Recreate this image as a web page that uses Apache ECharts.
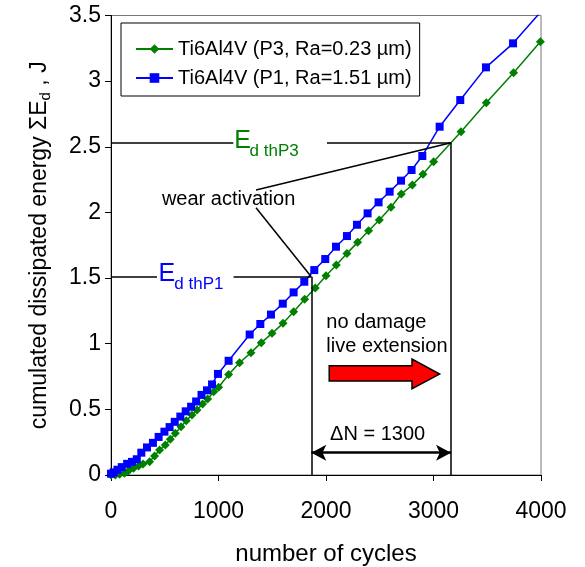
<!DOCTYPE html>
<html>
<head>
<meta charset="utf-8">
<script src="https://cdn.jsdelivr.net/npm/echarts@6/dist/echarts.min.js"></script>
<style>
html, body { margin: 0; padding: 0; background: #fff; }
#main { width: 585px; height: 567px; }
</style>
</head>
<body>
<div id="main"></div>
<script>
var xTicks = [0, 1000, 2000, 3000, 4000];
var yTicks = [0, 0.5, 1, 1.5, 2, 2.5, 3, 3.5];
var seriesNames = ['Ti6Al4V (P3, Ra=0.23 µm)', 'Ti6Al4V (P1, Ra=1.51 µm)'];

// P3, Ra=0.23
var cyclesP3 = [0, 40, 80, 124, 164, 210, 257, 298, 359, 405, 452, 505, 552, 598, 651, 700, 753, 800, 852, 899, 955, 1001, 1094, 1196, 1302, 1398, 1498, 1600, 1699, 1801, 1900, 2000, 2096, 2195, 2294, 2396, 2496, 2604, 2700, 2803, 2902, 3001, 3256, 3491, 3745, 3994];
var energyP3 = [0, 0, 0.005, 0.013, 0.033, 0.051, 0.069, 0.084, 0.101, 0.145, 0.19, 0.228, 0.272, 0.318, 0.368, 0.414, 0.457, 0.495, 0.541, 0.579, 0.634, 0.668, 0.765, 0.855, 0.932, 1.008, 1.079, 1.155, 1.244, 1.338, 1.425, 1.518, 1.6, 1.688, 1.772, 1.861, 1.942, 2.039, 2.14, 2.209, 2.29, 2.386, 2.615, 2.836, 3.064, 3.3];

// P1, Ra=1.51
var cyclesP1 = [0, 25, 60, 100, 150, 195, 240, 282, 335, 390, 443, 497, 545, 593, 645, 695, 745, 792, 842, 893, 940, 995, 1094, 1290, 1389, 1488, 1598, 1699, 1798, 1891, 1993, 2093, 2195, 2288, 2387, 2489, 2592, 2698, 2796, 2896, 3057, 3249, 3488, 3740, 4000];
var energyP1 = [0.01, 0.02, 0.04, 0.06, 0.085, 0.1, 0.12, 0.17, 0.21, 0.245, 0.29, 0.33, 0.365, 0.405, 0.445, 0.485, 0.52, 0.56, 0.61, 0.645, 0.69, 0.77, 0.87, 1.07, 1.15, 1.222, 1.305, 1.391, 1.472, 1.561, 1.645, 1.739, 1.82, 1.906, 1.993, 2.077, 2.158, 2.242, 2.323, 2.43, 2.653, 2.856, 3.105, 3.288, 3.53];

// thresholds [cycles, energy]
var thresholdP3 = [3163, 2.53];
var thresholdP1 = [1863, 1.51];
var deltaN = thresholdP3[0] - thresholdP1[0];

var FONT = 'Liberation Sans, Arial, sans-serif';

function pairs(xs, ys) {
    var out = [];
    for (var i = 0; i < xs.length; i++) out.push([xs[i], ys[i]]);
    return out;
}
function seg(a, b) {
    return [{ coord: a }, { coord: b }];
}

var myChart = echarts.init(document.getElementById('main'));

var option = {
    animation: false,
    backgroundColor: '#fff',
    grid: {
        left: 111, right: 44, top: 15.5, bottom: 92,
        outerBoundsMode: 'none',
        containLabel: false,
        show: true, borderColor: '#777', borderWidth: 1
    },
    legend: {
        orient: 'vertical',
        left: 121, top: 23,
        padding: [16, 8, 8, 14],
        itemGap: 9,
        itemWidth: 37, itemHeight: 12,
        borderColor: '#000', borderWidth: 1,
        backgroundColor: '#fff',
        textStyle: { fontFamily: FONT, fontSize: 20, color: '#000' },
        data: [seriesNames[0], seriesNames[1]]
    },
    xAxis: {
        type: 'value',
        min: xTicks[0], max: xTicks[xTicks.length - 1], interval: 1000,
        name: 'number of cycles',
        nameLocation: 'middle', nameGap: 67,
        nameTextStyle: { fontFamily: FONT, fontSize: 24, color: '#000' },
        axisLine: { lineStyle: { color: '#000', width: 1 } },
        axisTick: { length: 6, lineStyle: { color: '#000' } },
        axisLabel: {
            fontFamily: FONT, fontSize: 23, color: '#000', margin: 25,
            formatter: function (v) { return String(v); }
        },
        splitLine: { show: false }
    },
    yAxis: {
        type: 'value',
        min: yTicks[0], max: yTicks[yTicks.length - 1], interval: 0.5,
        name: '{a|cumulated dissipated energy ΣE}{b|d}{a| , J}',
        nameLocation: 'middle', nameGap: 58,
        nameTextStyle: {
            color: '#000',
            rich: {
                a: { fontFamily: FONT, fontSize: 23, color: '#000' },
                b: { fontFamily: FONT, fontSize: 15, color: '#000', padding: [12, 0, 0, 0] }
            }
        },
        axisLine: { show: true, lineStyle: { color: '#000', width: 1 } },
        axisTick: { show: true, length: 6, lineStyle: { color: '#000' } },
        axisLabel: { fontFamily: FONT, fontSize: 23, color: '#000', margin: 10 },
        splitLine: { show: false }
    },
    series: [
        {
            name: seriesNames[0],
            type: 'line',
            data: pairs(cyclesP3, energyP3),
            color: '#008000',
            symbol: 'diamond', symbolSize: 9,
            lineStyle: { width: 1.5 },
            clip: true,
            z: 3
        },
        {
            name: seriesNames[1],
            type: 'line',
            data: pairs(cyclesP1, energyP1),
            color: '#0000ff',
            symbol: 'rect', symbolSize: 8,
            lineStyle: { width: 1.5 },
            clip: true,
            z: 4
        },
        {
            type: 'line',
            data: [],
            silent: true,
            markLine: {
                silent: true,
                symbol: 'none',
                label: { show: false },
                lineStyle: { color: '#000', width: 1.5, type: 'solid' },
                data: [
                    // threshold P3
                    seg([0, thresholdP3[1]], [1138, thresholdP3[1]]),
                    seg([2009, thresholdP3[1]], thresholdP3),
                    seg(thresholdP3, [thresholdP3[0], 0]),
                    // threshold P1
                    seg([0, thresholdP1[1]], [428, thresholdP1[1]]),
                    seg([1140, thresholdP1[1]], thresholdP1),
                    seg(thresholdP1, [thresholdP1[0], 0]),
                    // wear activation leaders
                    seg([1349, 2.171], thresholdP3),
                    seg([1349, 2.036], thresholdP1)
                ]
            }
        },
        {
            type: 'line',
            data: [],
            silent: true,
            markLine: {
                silent: true,
                symbol: ['arrow', 'arrow'],
                symbolSize: [12, 15],
                label: { show: false },
                lineStyle: { color: '#000', width: 2.5, type: 'solid' },
                data: [seg([thresholdP1[0], 0.17], [thresholdP3[0], 0.17])]
            }
        }
    ]
};
myChart.setOption(option);

function px(c) {
    return myChart.convertToPixel({ gridIndex: 0 }, c);
}
function txt(c, s, size, color, align) {
    var p = px(c);
    return {
        type: 'text', silent: true, z: 10,
        style: {
            x: p[0], y: p[1], text: s, fill: color,
            font: size + 'px ' + FONT,
            align: align || 'left', verticalAlign: 'middle'
        }
    };
}

var arrowPts = [[2030, 0.832], [2800, 0.832], [2800, 0.883], [3057, 0.769], [2800, 0.657], [2800, 0.716], [2030, 0.716]].map(px);

myChart.setOption({
    graphic: [
        txt([1147, 2.54], 'E', 25, '#008000'),
        txt([1289, 2.468], 'd thP3', 17, '#008000'),
        txt([443, 1.531], 'E', 25, '#0000ff'),
        txt([589, 1.455], 'd thP1', 17, '#0000ff'),
        txt([1094, 2.1], 'wear activation', 20, '#000', 'center'),
        txt([2003, 1.16], 'no damage', 20, '#000'),
        txt([2003, 0.977], 'live extension', 20, '#000'),
        txt([2480, 0.305], 'ΔN = ' + deltaN, 20, '#000', 'center'),
        {
            type: 'polygon', silent: true, z: 10,
            shape: { points: arrowPts },
            style: { fill: '#ff0000', stroke: '#000', lineWidth: 1.5 }
        }
    ]
});
</script>
</body>
</html>
